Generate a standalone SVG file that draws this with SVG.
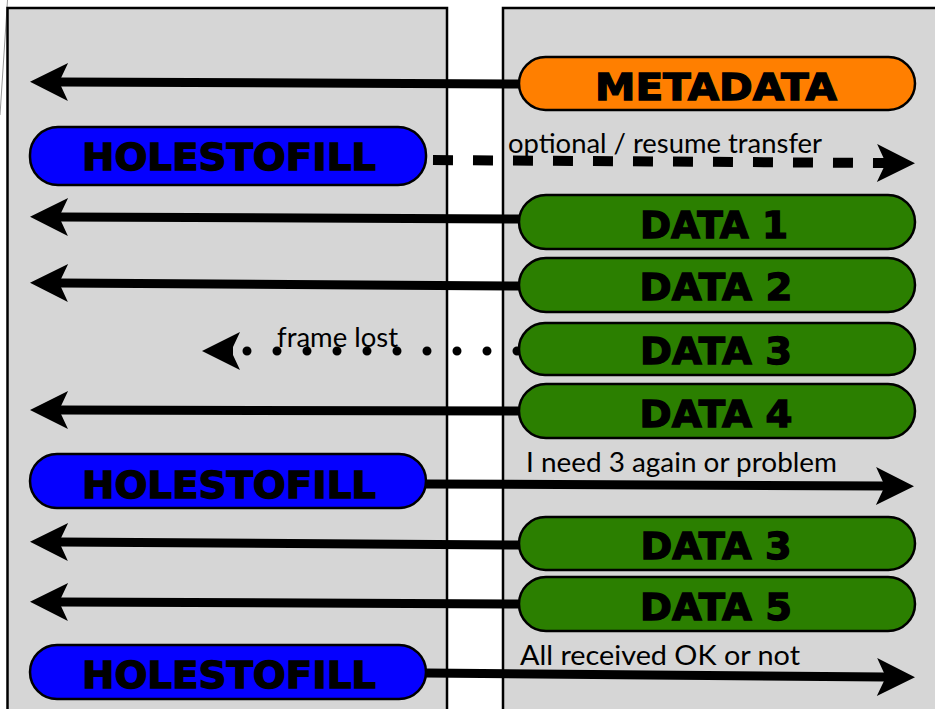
<svg xmlns="http://www.w3.org/2000/svg" xmlns:xlink="http://www.w3.org/1999/xlink" width="935" height="709" viewBox="0 0 935 709">
  <style>
    .panel { fill: #d6d6d6; stroke: #000; stroke-width: 2.5; }
    .box { stroke: #000; stroke-width: 2.5; }
    .meta { fill: #ff7f00; }
    .holes { fill: #0500ff; }
    .data { fill: #2b7f00; }
    .btxt { font-family: "DejaVu Sans", "Liberation Sans", sans-serif; font-weight: bold; font-size: 37px; fill: #000; stroke: #000; stroke-width: 1.3; text-anchor: middle; }
    .lbl { font-family: Lato, "Liberation Sans", sans-serif; font-size: 26px; fill: #000; }
    .flow { fill: none; stroke: #000; stroke-width: 9; marker-end: url(#head); }
    .dash { fill: none; stroke: #000; stroke-width: 10; stroke-dasharray: 20 20; marker-end: url(#head); }
    .dots { fill: none; stroke: #000; stroke-width: 9; stroke-linecap: round; stroke-dasharray: 0 30; marker-end: url(#headFar); }
  </style>
  <defs>
    <!-- concave arrowhead, tip at x=40 -->
    <marker id="head" viewBox="0 0 40 40" refX="10" refY="20" markerWidth="40" markerHeight="40" markerUnits="userSpaceOnUse" orient="auto">
      <path d="M40,20 L2,1 L9,16 L9,24 L2,39 Z" fill="#000"/>
    </marker>
    <marker id="headFar" viewBox="0 0 40 40" refX="-3" refY="20" markerWidth="40" markerHeight="40" markerUnits="userSpaceOnUse" orient="auto" overflow="visible">
      <path d="M40,20 L2,1 L9,16 L9,24 L2,39 Z" fill="#000"/>
    </marker>
  </defs>

  <rect width="935" height="709" fill="#fff"/>
  <line x1="7.5" y1="0" x2="0" y2="115" stroke="#999" stroke-width="1"/>

  <!-- two endpoints -->
  <rect class="panel" x="7.5" y="8" width="439.5" height="720"/>
  <rect class="panel" x="503" y="8" width="450" height="720"/>

  <g id="connectors">
    <path class="flow" d="M519,84 L60,82"/>
    <path class="dash" d="M433,160 L885,163"/>
    <path class="flow" d="M519,219 L60,217"/>
    <path class="flow" d="M519,286 L60,283"/>
    <path class="dots" d="M517,351 L245,351"/>
    <path class="flow" d="M519,411 L60,410"/>
    <path class="flow" d="M426,484 L884,486"/>
    <path class="flow" d="M519,545 L60,542"/>
    <path class="flow" d="M519,604 L60,602"/>
    <path class="flow" d="M426,673 L885,677"/>
    <text class="lbl" x="508" y="153" textLength="314" lengthAdjust="spacingAndGlyphs">optional / resume transfer</text>
    <text class="lbl" x="277" y="347" textLength="121" lengthAdjust="spacingAndGlyphs">frame lost</text>
    <text class="lbl" x="526" y="472" textLength="311" lengthAdjust="spacingAndGlyphs">I need 3 again or problem</text>
    <text class="lbl" x="520" y="665" textLength="280" lengthAdjust="spacingAndGlyphs">All received OK or not</text>
  </g>

  <g id="metadata">
    <rect class="box meta" x="519" y="57" width="396" height="53" rx="26.5"/>
    <text class="btxt" x="716" y="100" textLength="242" lengthAdjust="spacingAndGlyphs">METADATA</text>
  </g>
  <g id="holestofill-1">
    <rect class="box holes" x="30" y="127" width="396" height="58" rx="28"/>
    <text class="btxt" x="229" y="170" textLength="294" lengthAdjust="spacingAndGlyphs">HOLESTOFILL</text>
  </g>
  <g id="data-1">
    <rect class="box data" x="519" y="195" width="396" height="54" rx="27"/>
    <text class="btxt" x="714" y="238" textLength="148" lengthAdjust="spacingAndGlyphs">DATA 1</text>
  </g>
  <g id="data-2">
    <rect class="box data" x="519" y="258" width="396" height="54" rx="27"/>
    <text class="btxt" x="716" y="300" textLength="153" lengthAdjust="spacingAndGlyphs">DATA 2</text>
  </g>
  <g id="data-3">
    <rect class="box data" x="519" y="323" width="396" height="52" rx="26"/>
    <text class="btxt" x="716" y="364" textLength="152" lengthAdjust="spacingAndGlyphs">DATA 3</text>
  </g>
  <g id="data-4">
    <rect class="box data" x="519" y="384" width="396" height="54" rx="27"/>
    <text class="btxt" x="716" y="427" textLength="153" lengthAdjust="spacingAndGlyphs">DATA 4</text>
  </g>
  <g id="holestofill-2">
    <rect class="box holes" x="30" y="454" width="396" height="54" rx="27"/>
    <text class="btxt" x="229" y="498" textLength="294" lengthAdjust="spacingAndGlyphs">HOLESTOFILL</text>
  </g>
  <g id="data-3-resent">
    <rect class="box data" x="519" y="517" width="396" height="53" rx="26.5"/>
    <text class="btxt" x="716" y="559" textLength="151" lengthAdjust="spacingAndGlyphs">DATA 3</text>
  </g>
  <g id="data-5">
    <rect class="box data" x="519" y="577" width="396" height="54" rx="27"/>
    <text class="btxt" x="716" y="620" textLength="152" lengthAdjust="spacingAndGlyphs">DATA 5</text>
  </g>
  <g id="holestofill-3">
    <rect class="box holes" x="30" y="645" width="396" height="54" rx="27"/>
    <text class="btxt" x="229" y="688" textLength="294" lengthAdjust="spacingAndGlyphs">HOLESTOFILL</text>
  </g>
</svg>
